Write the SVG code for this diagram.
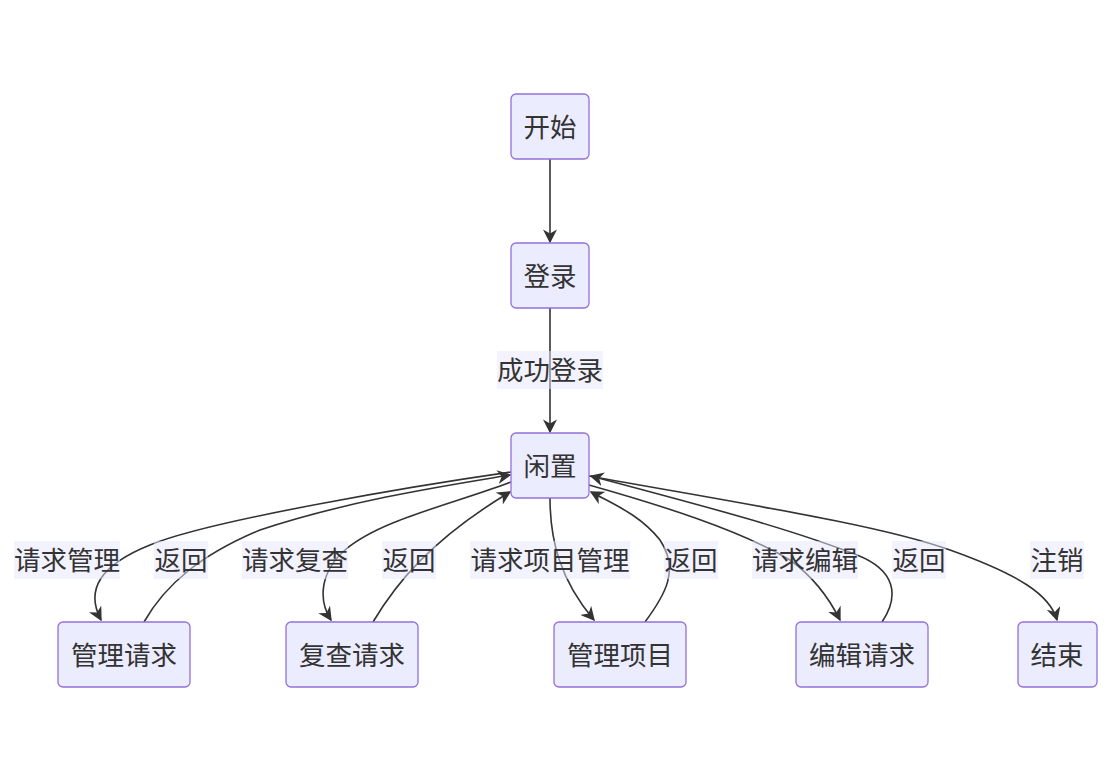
<svg xmlns="http://www.w3.org/2000/svg" width="1110" height="760" viewBox="0 0 1110 760">
<style>
.node rect{fill:#ECECFF;stroke:#9370DB;stroke-width:1.3}
.node text,.lbl text{font-family:"Noto Sans CJK SC","Noto Sans",sans-serif;font-size:26.5px;fill:#333;text-anchor:middle;dominant-baseline:central}
.edge{fill:none;stroke:#333;stroke-width:1.6}
.lbl rect{fill:#E8E8FF;fill-opacity:0.5}
</style>
<defs>
<marker id="arr" viewBox="0 0 10 10" refX="9" refY="5" markerWidth="14" markerHeight="14" markerUnits="userSpaceOnUse" orient="auto">
<path d="M0,0 L10,5 L0,10 L3,5 z" fill="#333"/>
</marker>
</defs>
<rect width="1110" height="760" fill="#fff"/>
<g id="connectors">
<path class="edge" d="M550,159 L550,242" marker-end="url(#arr)"/>
<path class="edge" d="M550,308 L550,432" marker-end="url(#arr)"/>
<path class="edge" d="M511,472 C420,485 210,520 150,545 C100,565 85,590 101,620" marker-end="url(#arr)"/>
<path class="edge" d="M144,622 C165,585 200,555 260,530 C350,500 450,485 510,475" marker-end="url(#arr)"/>
<path class="edge" d="M511,482 C450,505 380,520 345,550 C320,572 318,600 331,620" marker-end="url(#arr)"/>
<path class="edge" d="M373,622 C395,585 430,540 510,492" marker-end="url(#arr)"/>
<path class="edge" d="M550,498 C550,540 560,580 594,620" marker-end="url(#arr)"/>
<path class="edge" d="M645,622 C665,595 680,570 660,540 C640,515 615,505 591,492" marker-end="url(#arr)"/>
<path class="edge" d="M589,485 C660,505 740,530 790,560 C815,578 830,600 840,620" marker-end="url(#arr)"/>
<path class="edge" d="M882,622 C900,595 895,570 857,555 C780,525 680,500 591,476" marker-end="url(#arr)"/>
<path class="edge" d="M589,476 C750,505 880,525 950,550 C1020,575 1050,595 1057,620" marker-end="url(#arr)"/>
</g>
<g id="labels">
<g class="lbl"><rect x="497" y="351" width="106" height="38"/><text x="550" y="368">成功登录</text></g>
<g class="lbl"><rect x="14" y="541" width="106" height="38"/><text x="67" y="558">请求管理</text></g>
<g class="lbl"><rect x="154" y="541" width="54" height="38"/><text x="181" y="558">返回</text></g>
<g class="lbl"><rect x="242" y="541" width="106" height="38"/><text x="295" y="558">请求复查</text></g>
<g class="lbl"><rect x="382" y="541" width="54" height="38"/><text x="409" y="558">返回</text></g>
<g class="lbl"><rect x="470" y="541" width="160" height="38"/><text x="550" y="558">请求项目管理</text></g>
<g class="lbl"><rect x="664" y="541" width="54" height="38"/><text x="691" y="558">返回</text></g>
<g class="lbl"><rect x="752" y="541" width="106" height="38"/><text x="805" y="558">请求编辑</text></g>
<g class="lbl"><rect x="892" y="541" width="54" height="38"/><text x="919" y="558">返回</text></g>
<g class="lbl"><rect x="1030" y="541" width="54" height="38"/><text x="1057" y="558">注销</text></g>
</g>
<g id="n-start" class="node"><rect x="511" y="94" width="78" height="65" rx="5"/><text x="550" y="125">开始</text></g>
<g id="n-login" class="node"><rect x="511" y="243" width="78" height="65" rx="5"/><text x="550" y="274">登录</text></g>
<g id="n-idle" class="node"><rect x="511" y="433" width="78" height="65" rx="5"/><text x="550" y="464">闲置</text></g>
<g id="n-manreq" class="node"><rect x="58" y="622" width="132" height="65" rx="5"/><text x="124" y="653">管理请求</text></g>
<g id="n-review" class="node"><rect x="286" y="622" width="132" height="65" rx="5"/><text x="352" y="653">复查请求</text></g>
<g id="n-manproj" class="node"><rect x="554" y="622" width="132" height="65" rx="5"/><text x="620" y="653">管理项目</text></g>
<g id="n-edit" class="node"><rect x="796" y="622" width="132" height="65" rx="5"/><text x="862" y="653">编辑请求</text></g>
<g id="n-end" class="node"><rect x="1018" y="622" width="79" height="65" rx="5"/><text x="1057" y="653">结束</text></g>
</svg>
